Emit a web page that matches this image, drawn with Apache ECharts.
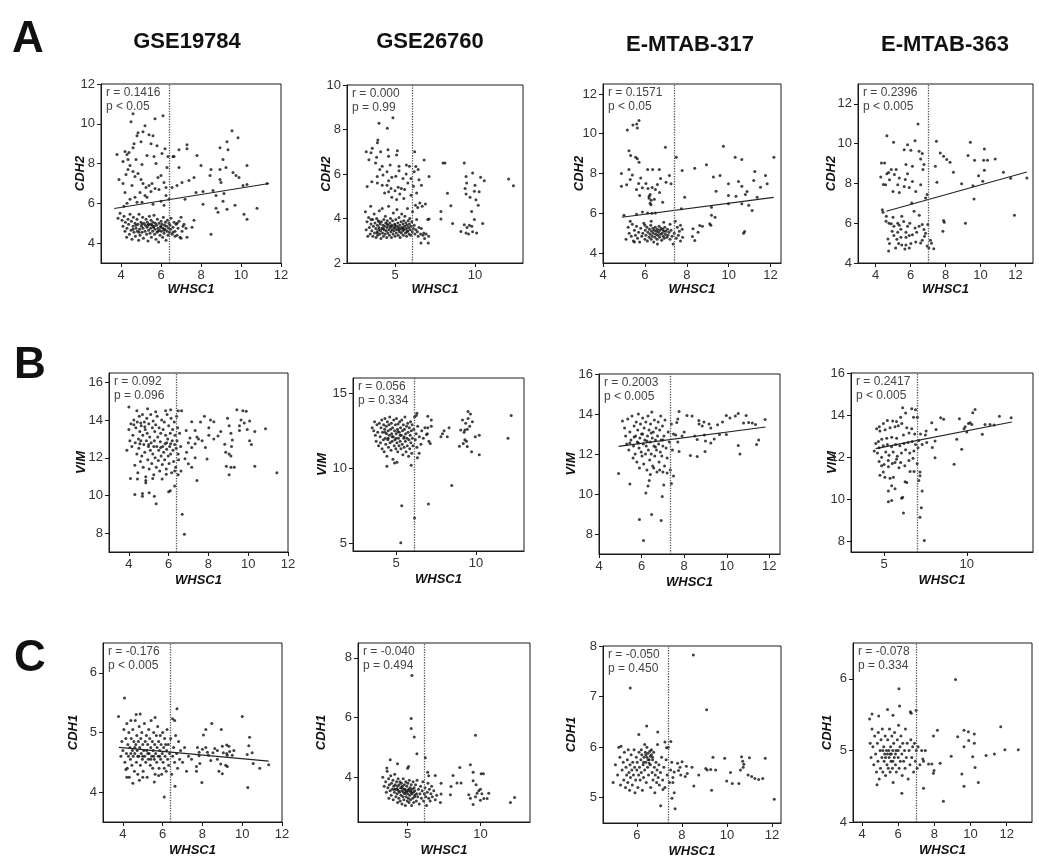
<!DOCTYPE html>
<html>
<head>
<meta charset="utf-8">
<script src="https://cdn.jsdelivr.net/npm/echarts@6.0.0/dist/echarts.min.js"></script>
<style>
html, body { margin: 0; padding: 0; background: #fff; }
#chart { width: 1039px; height: 865px; }
</style>
</head>
<body>
<div id="chart"></div>
<script>
// column headers / row genes
var datasets = ['GSE19784', 'GSE26760', 'E-MTAB-317', 'E-MTAB-363'];
var rowGenes = ['CDH2', 'VIM', 'CDH1'];
var rowLetters = ['A', 'B', 'C'];

// correlation notes, panel order A1..A4, B1..B4, C1..C4
var rText = ['r = 0.1416', 'r = 0.000', 'r = 0.1571', 'r = 0.2396',
  'r = 0.092', 'r = 0.056', 'r = 0.2003', 'r = 0.2417',
  'r = -0.176', 'r = -0.040', 'r = -0.050', 'r = -0.078'];
var pText = ['p < 0.05', 'p = 0.99', 'p < 0.05', 'p < 0.005',
  'p = 0.096', 'p = 0.334', 'p < 0.005', 'p < 0.005',
  'p < 0.005', 'p = 0.494', 'p = 0.450', 'p = 0.334'];

// WHSC1 cut-off (dotted line)
var cutoffs = [6.4, 6.1, 7.4, 7.0, 6.4, 6.15, 7.35, 7.0, 6.4, 6.15, 7.4, 7.0];

var xRanges = [[3, 12], [2, 13], [4, 12.5], [3, 13], [3, 12], [2.3, 13], [4, 12.5], [3, 14], [3, 12], [1.6, 13.4], [4.5, 12.4], [3.5, 13.4]];
var yRanges = [[3, 12], [2, 10], [3.5, 12.5], [4, 13], [7, 16.5], [4.5, 16], [7, 16], [7.5, 16], [3.5, 6.5], [2.5, 8.5], [4.5, 8], [4, 6.5]];
var xTicks = [[4, 6, 8, 10, 12], [5, 10], [4, 6, 8, 10, 12], [4, 6, 8, 10, 12],
  [4, 6, 8, 10, 12], [5, 10], [4, 6, 8, 10, 12], [5, 10],
  [4, 6, 8, 10, 12], [5, 10], [6, 8, 10, 12], [4, 6, 8, 10, 12]];
var yTicks = [[4, 6, 8, 10, 12], [2, 4, 6, 8, 10], [4, 6, 8, 10, 12], [4, 6, 8, 10, 12],
  [8, 10, 12, 14, 16], [5, 10, 15], [8, 10, 12, 14, 16], [8, 10, 12, 14, 16],
  [4, 5, 6], [4, 6, 8], [5, 6, 7, 8], [4, 5, 6]];

// regression lines (end points), null where none is drawn
var fits = [[[3.66, 5.74], [11.4, 7.0]], null, [[4.9, 5.8], [12.15, 6.8]], [[4.62, 6.6], [12.65, 8.58]],
  null, null, [[4.92, 12.38], [11.82, 13.35]], [[4.49, 12.41], [12.72, 13.67]],
  [[3.8, 4.75], [11.33, 4.52]], null, null, null];

// ---- points ----
var a1 = [[4.6,10.5],[4.5,10.1],[5.2,9.9],[5.7,10.25],[6.1,10.4],[4.8,9.4],[4.85,9.55],[5.1,9.6],[5.4,9.45],[5.6,9.4],[5.5,9.0],[5.8,8.9],[4.6,8.8],[5.0,9.1],[4.4,8.55],[4.3,8.45],[3.8,8.45],[4.1,8.1],[4.35,8.2],[4.75,8.2],[5.05,7.95],[5.3,8.4],[5.65,8.35],[6.2,8.75],[6.05,8.5],[6.35,8.35],[6.6,8.35],[3.9,7.2],[4.1,7.0],[4.25,7.45],[4.35,7.7],[4.45,7.9],[4.6,7.6],[4.7,7.35],[4.85,7.5],[5.0,7.2],[5.1,7.0],[5.25,6.8],[5.4,6.9],[5.55,7.0],[5.7,6.75],[5.85,7.3],[6.0,7.4],[6.15,7.05],[6.25,6.8],[5.9,6.7],[5.5,6.6],[5.2,6.4],[4.95,6.55],[4.7,6.3],[4.45,6.2],[4.3,6.0],[4.15,5.85],[4.8,6.05],[5.05,6.05],[5.3,6.3],[5.6,5.95],[6.0,6.1],[6.25,6.4],[6.15,5.9],[4.55,6.9],[4.2,6.55],[5.75,8.0],[6.3,7.8],[6.4,6.2],[4.2,8.6],[4.65,9.0],
  [6.65,8.35],[6.9,8.7],[7.3,8.95],[7.3,8.75],[7.8,8.4],[8.0,7.9],[8.95,8.8],[9.3,9.1],[9.55,9.65],[9.35,8.7],[9.85,9.3],[10.3,7.9],[9.1,8.2],[8.95,7.7],[9.25,7.8],[9.6,7.55],[9.75,7.4],[9.9,7.3],[10.1,6.9],[10.3,6.95],[8.45,7.4],[8.5,7.7],[7.65,7.3],[7.4,7.15],[7.05,7.05],[6.8,6.9],[6.55,6.8],[7.75,6.55],[8.1,6.6],[8.95,7.2],[9.0,7.05],[8.75,6.4],[9.1,6.1],[9.3,5.7],[8.75,5.75],[8.85,5.55],[9.7,5.9],[10.15,5.45],[10.3,5.2],[10.8,5.75],[11.3,7.0],[8.1,5.95],[8.6,6.65],[8.5,4.45],[7.65,5.15],[7.55,4.8],[7.15,4.95],[7.25,4.75],[7.3,4.3],[7.0,4.25],[6.7,4.35],[6.6,4.55],[7.0,5.3],[6.8,5.0],[9.15,6.5],[6.9,7.8],[7.2,6.2],
  [3.85,5.25],[3.95,5.5],[4.05,5.15],[4.1,4.85],[4.15,5.35],[4.2,4.6],[4.22,5.05],[4.28,4.3],[4.3,4.75],[4.35,5.2],[4.38,4.95],[4.42,4.45],[4.45,5.45],[4.5,4.65],[4.52,5.1],[4.55,4.2],[4.6,4.85],[4.62,5.3],[4.65,4.55],[4.7,5.0],[4.72,4.35],[4.75,4.75],[4.8,5.2],[4.82,4.6],[4.85,4.95],[4.88,4.15],[4.9,5.45],[4.93,4.7],[4.95,4.4],[5.0,5.05],[5.02,4.85],[5.05,4.55],[5.08,5.3],[5.1,4.75],[5.12,4.25],[5.15,5.0],[5.2,4.6],[5.22,4.9],[5.25,5.2],[5.28,4.45],[5.3,4.8],[5.32,5.05],[5.35,4.1],[5.38,4.65],[5.4,4.95],[5.42,5.35],[5.45,4.5],[5.48,4.75],[5.5,5.15],[5.52,4.3],[5.55,4.9],[5.58,4.6],[5.6,5.05],[5.62,4.8],[5.65,5.4],[5.68,4.45],[5.7,4.7],[5.72,5.0],[5.75,4.2],[5.78,4.9],[5.8,4.55],[5.82,5.2],[5.85,4.75],[5.88,4.05],[5.9,5.0],[5.92,4.65],[5.95,4.4],[5.98,4.85],[6.0,5.1],[6.02,4.6],[6.05,4.95],[6.08,4.3],[6.1,4.75],[6.12,5.3],[6.15,4.5],[6.18,4.9],[6.2,4.7],[6.22,5.05],[6.25,4.15],[6.28,4.85],[6.3,4.6],[6.32,5.15],[6.35,4.4],[6.38,4.75],[6.4,5.0],[6.42,4.55],[6.45,4.9],[6.48,4.7],[6.5,5.25],[6.55,4.45],[6.6,4.8],[6.65,5.05],[6.7,4.6],[6.75,4.95],[6.8,4.4],[6.85,4.75],[6.9,5.1],[6.95,4.3],[7.05,4.6],[7.1,4.85],[5.35,4.9],[5.05,4.95],[4.75,4.9],[5.65,4.85],[6.0,4.8],[4.6,4.7],[5.5,4.95],[5.85,4.6],[6.15,4.65],[4.9,4.55]];

var a2 = [[3.15,4.3],[3.2,3.5],[3.25,3.85],[3.3,3.2],[3.35,4.05],[3.4,3.6],[3.45,3.3],[3.48,4.55],[3.5,3.75],[3.55,3.45],[3.6,3.95],[3.62,3.2],[3.65,3.65],[3.7,4.2],[3.72,3.35],[3.75,3.8],[3.8,3.55],[3.82,3.15],[3.85,4.0],[3.88,3.4],[3.9,3.7],[3.92,3.25],[3.95,3.9],[3.98,3.5],[4.0,3.6],[4.02,4.35],[4.05,3.3],[4.08,3.75],[4.1,3.45],[4.12,3.1],[4.15,3.85],[4.18,3.55],[4.2,4.45],[4.22,3.35],[4.25,3.7],[4.28,3.2],[4.3,3.95],[4.32,3.5],[4.35,3.65],[4.38,3.3],[4.4,4.1],[4.42,3.8],[4.45,3.45],[4.48,3.15],[4.5,3.6],[4.52,3.9],[4.55,3.35],[4.58,3.7],[4.6,4.55],[4.62,3.5],[4.65,3.25],[4.68,3.8],[4.7,3.6],[4.72,4.0],[4.75,3.4],[4.78,3.15],[4.8,3.7],[4.82,3.5],[4.85,3.9],[4.88,3.3],[4.9,4.25],[4.92,3.6],[4.95,3.45],[4.98,3.75],[5.0,3.2],[5.02,3.55],[5.05,3.95],[5.08,3.35],[5.1,3.65],[5.12,4.4],[5.15,3.5],[5.18,3.8],[5.2,3.25],[5.22,3.6],[5.25,4.05],[5.28,3.4],[5.3,3.7],[5.32,3.15],[5.35,3.55],[5.38,3.85],[5.4,3.35],[5.42,4.2],[5.45,3.6],[5.48,3.45],[5.5,3.75],[5.52,3.25],[5.55,3.9],[5.58,3.5],[5.6,3.65],[5.62,4.1],[5.65,3.35],[5.68,3.8],[5.7,3.55],[5.72,3.2],[5.75,3.7],[5.78,4.45],[5.8,3.45],[5.82,3.9],[5.85,3.6],[5.88,3.3],[5.9,3.75],[5.92,4.0],[5.95,3.5],[5.98,3.25],[6.0,3.65],[6.05,3.85],[6.08,3.4],[6.1,4.3],[6.15,3.55],[6.2,3.7],[6.25,3.3],[6.28,4.6],[6.3,3.5],[6.35,3.95],[6.4,3.4],[6.42,4.5],[6.45,3.2],[6.5,3.6],[6.55,4.7],[6.6,3.3],[6.62,2.9],[6.65,3.55],[6.7,4.55],[6.75,3.25],[6.8,3.35],[6.85,3.1],[6.9,4.65],[6.95,3.3],[7.05,3.95],[7.08,2.9],[7.1,3.2],[3.5,3.95],[4.0,3.85],[4.5,3.75],[5.0,3.7],[5.5,3.55],[4.25,3.55],[4.75,3.65],[5.25,3.5],[5.75,3.4],[3.9,3.35],
  [4.87,8.53],[4.0,8.28],[4.52,8.06],[3.93,7.53],[3.9,7.4],[3.58,7.16],[3.2,7.0],[3.5,6.95],[4.1,7.0],[4.56,7.09],[5.15,7.05],[4.6,6.8],[5.1,6.85],[6.23,7.0],[3.85,6.75],[3.37,6.64],[3.79,6.49],[4.2,6.35],[4.7,6.4],[5.25,6.35],[5.71,6.41],[5.9,6.35],[6.3,6.34],[6.82,6.63],[6.45,6.2],[3.26,5.44],[3.55,5.65],[3.89,5.89],[4.25,5.95],[4.5,6.1],[4.6,5.7],[4.8,5.85],[5.05,5.9],[5.25,6.15],[5.5,5.8],[5.7,6.0],[6.0,5.8],[6.2,6.1],[6.5,5.74],[7.13,5.89],[3.9,5.6],[4.2,5.5],[4.5,5.5],[4.75,5.35],[5.0,5.25],[5.2,5.4],[5.4,5.35],[5.3,5.1],[4.8,4.95],[4.6,5.2],[5.6,5.3],[5.55,4.9],[6.15,5.45],[6.35,5.15],[6.0,5.05],[5.1,4.85],[4.35,5.15],[5.8,5.6],[6.65,5.5],[4.05,6.2],
  [8.0,6.5],[8.12,6.49],[9.33,6.5],[9.44,5.89],[9.48,5.6],[9.85,6.05],[10.0,5.5],[10.35,5.85],[10.58,5.7],[9.96,5.22],[10.26,5.2],[9.38,5.35],[9.44,5.1],[9.69,4.95],[10.06,4.84],[10.2,4.6],[9.79,4.32],[9.96,3.95],[9.33,3.72],[9.5,3.6],[9.65,3.7],[9.8,3.65],[9.44,3.35],[9.6,3.3],[9.85,3.4],[10.1,3.35],[10.48,3.77],[9.12,3.42],[8.28,5.14],[8.49,4.57],[8.6,3.77],[7.87,4.32],[7.87,3.98],[7.13,3.98],[12.1,5.77],[12.4,5.47]];

var a3 = [[5.1,4.7],[5.2,5.3],[5.25,5.0],[5.35,4.85],[5.4,5.45],[5.45,4.6],[5.5,5.15],[5.55,4.9],[5.6,5.35],[5.65,4.75],[5.7,5.05],[5.75,4.55],[5.8,5.25],[5.85,4.85],[5.9,5.0],[5.95,5.5],[6.0,4.7],[6.02,5.15],[6.05,4.9],[6.1,5.3],[6.12,4.6],[6.15,5.05],[6.2,4.8],[6.22,5.2],[6.25,4.95],[6.28,5.4],[6.3,4.7],[6.32,5.1],[6.35,4.85],[6.38,5.25],[6.4,5.0],[6.42,4.55],[6.45,5.15],[6.48,4.8],[6.5,5.3],[6.52,4.95],[6.55,5.1],[6.58,4.7],[6.6,5.2],[6.62,4.9],[6.65,5.05],[6.68,5.35],[6.7,4.8],[6.72,5.15],[6.75,4.95],[6.78,5.25],[6.8,4.65],[6.82,5.0],[6.85,5.2],[6.88,4.85],[6.9,5.1],[6.92,4.75],[6.95,5.3],[6.98,4.95],[7.0,5.1],[7.05,4.8],[7.08,5.2],[7.1,4.9],[7.15,5.05],[7.2,4.7],[7.25,5.15],[7.3,4.85],[7.35,4.45],[7.4,5.0],[7.45,5.6],[7.5,4.75],[7.55,5.3],[7.6,4.9],[7.65,5.1],[7.7,4.6],[7.78,5.2],[7.8,4.8],[6.3,5.6],[6.9,5.55],[5.5,4.55],[6.0,5.4],[6.6,4.45],[7.2,5.45],[5.3,5.6],[7.7,5.4],
  [5.16,10.19],[5.43,10.44],[5.61,10.49],[5.72,10.66],[5.64,10.29],[5.24,9.15],[5.32,8.9],[5.56,8.82],[5.64,8.74],[5.72,8.57],[6.98,9.32],[7.5,8.82],[4.88,8.0],[5.24,8.2],[6.13,8.2],[6.37,8.2],[6.69,8.2],[7.17,7.9],[7.78,8.15],[8.38,8.27],[8.94,8.44],[9.75,9.37],[10.31,8.82],[10.63,8.7],[12.16,8.82],
  [4.88,7.36],[5.13,7.43],[5.3,7.7],[5.4,7.93],[5.8,7.77],[5.7,7.5],[5.88,7.28],[6.05,7.5],[6.15,7.25],[6.35,7.3],[6.6,7.45],[6.75,7.75],[6.5,7.2],[6.25,6.95],[6.2,6.76],[6.3,6.65],[6.45,6.7],[6.7,7.05],[6.85,6.56],[7.01,7.56],[7.25,7.48],[5.6,7.2],[5.75,6.9],[6.2,6.85],[6.25,6.5],[6.29,6.43],[5.88,6.06],[6.13,6.02],[6.33,6.0],[6.5,6.02],[5.0,5.9],[5.6,5.95],
  [9.27,7.82],[9.59,7.9],[9.99,7.48],[10.47,7.6],[10.63,7.36],[10.88,7.1],[11.2,7.65],[11.52,7.31],[11.84,7.48],[11.76,7.9],[11.25,8.1],[9.4,7.11],[9.99,6.9],[10.35,6.85],[10.8,6.95],[11.36,6.81],[10.63,6.48],[10.96,6.4],[11.12,6.14],[9.99,6.48],[9.18,6.3],[9.18,5.9],[9.35,5.8],[9.1,5.47],[9.15,5.4],[10.76,5.09],[10.71,5.0],[7.9,6.81],[7.74,6.23],[8.3,5.22],[8.62,5.38],[8.75,5.35],[8.54,5.05],[8.27,4.83],[8.38,4.63]];

var a4 = [[6.43,10.99],[4.65,10.4],[5.03,10.07],[6.26,10.15],[5.83,9.95],[5.64,9.7],[6.02,9.67],[6.49,9.62],[6.67,9.5],[6.58,9.23],[6.77,8.95],[7.48,10.12],[7.7,9.53],[7.89,9.37],[8.07,9.2],[8.26,9.06],[8.45,8.56],[9.42,10.07],[9.29,9.4],[9.66,9.16],[10.22,9.73],[10.18,9.16],[10.4,9.16],[10.84,9.23],[9.89,8.39],[10.22,8.66],[10.13,8.11],[9.57,7.89],[8.92,7.99],[7.51,8.06],[7.42,8.86],[9.63,7.22],[11.31,8.56],[11.72,8.26],[12.65,8.28],[11.94,6.4],[9.14,6.0],[7.89,6.14],[7.93,6.05],[7.85,5.6],
  [4.34,9.03],[4.52,9.03],[4.65,8.49],[4.8,8.19],[4.3,8.33],[4.58,7.94],[4.9,8.7],[5.08,8.45],[5.18,8.7],[5.36,8.28],[5.27,7.94],[5.0,7.6],[5.36,7.55],[5.64,7.85],[5.7,8.2],[5.83,8.49],[6.11,8.86],[5.74,8.95],[5.93,7.8],[6.11,8.1],[6.3,7.6],[6.07,7.02],[6.58,7.94],[6.71,8.7],[6.86,7.27],[6.95,7.45],[4.45,7.95],[4.75,8.55],
  [4.39,6.68],[4.43,6.55],[4.62,6.35],[4.77,6.0],[4.9,5.97],[5.05,5.85],[5.27,6.0],[5.36,5.9],[5.61,6.09],[5.83,5.85],[5.96,6.0],[5.45,5.7],[5.74,5.55],[5.27,5.55],[5.05,5.38],[5.22,5.2],[5.45,5.3],[5.74,5.3],[5.93,5.38],[6.11,5.42],[6.26,5.76],[6.49,5.85],[6.67,5.93],[6.77,5.68],[6.86,5.5],[6.99,5.93],[7.14,5.15],[6.67,5.15],[6.3,5.05],[6.02,4.98],[5.74,4.9],[5.5,4.9],[5.32,4.98],[4.8,4.98],[4.71,5.21],[4.75,4.6],[5.68,4.7],[5.93,4.75],[7.05,4.75],[7.33,4.72],[7.2,4.99],[6.58,5.0],[6.95,4.85],[4.6,6.1],[5.0,6.3],[5.5,6.35],[6.2,6.6],[6.5,6.4],[4.95,5.6],[6.35,5.55],[5.15,4.75],[6.8,5.35]];

var b1 = [[4.0,14.7],[4.4,14.5],[4.94,14.6],[5.35,14.45],[5.85,14.5],[6.1,14.55],[6.48,14.5],[6.65,14.5],
  [3.9,12.4],[4.0,13.5],[4.05,12.9],[4.1,13.8],[4.15,12.6],[4.2,13.2],[4.25,14.0],[4.3,11.6],[4.32,12.8],[4.35,13.6],[4.4,12.2],[4.42,13.9],[4.45,11.2],[4.48,13.0],[4.5,12.5],[4.52,14.2],[4.55,13.4],[4.58,11.8],[4.6,12.9],[4.62,13.7],[4.65,12.1],[4.68,14.3],[4.7,13.2],[4.72,11.5],[4.75,12.7],[4.78,13.9],[4.8,12.3],[4.82,13.5],[4.85,11.0],[4.88,12.9],[4.9,14.1],[4.92,13.3],[4.95,11.9],[4.98,12.6],[5.0,13.8],[5.02,11.4],[5.05,13.1],[5.08,12.4],[5.1,14.3],[5.12,12.8],[5.15,11.7],[5.18,13.6],[5.2,12.2],[5.22,13.95],[5.25,11.1],[5.28,12.9],[5.3,13.4],[5.32,12.0],[5.35,13.75],[5.38,11.5],[5.4,12.6],[5.42,14.2],[5.45,13.1],[5.48,11.85],[5.5,12.4],[5.52,13.6],[5.55,11.3],[5.58,12.85],[5.6,13.3],[5.62,12.1],[5.65,14.0],[5.68,11.65],[5.7,12.6],[5.72,13.5],[5.75,12.3],[5.78,13.9],[5.8,11.9],[5.82,12.75],[5.85,13.2],[5.88,11.4],[5.9,12.45],[5.92,14.3],[5.95,13.0],[5.98,12.1],[6.0,13.7],[6.02,11.7],[6.05,12.6],[6.08,13.3],[6.1,12.2],[6.12,14.1],[6.15,11.2],[6.18,12.9],[6.2,13.5],[6.22,12.4],[6.25,11.8],[6.28,13.9],[6.3,12.7],[6.32,13.2],[6.35,11.5],[6.38,12.5],[6.4,14.2],[6.42,12.9],[6.45,13.6],[6.48,12.2],[6.5,11.9],[6.55,13.3],[6.6,12.6],[6.62,11.3],[4.25,13.75],[4.6,13.85],[4.8,13.65],[5.0,12.7],[5.25,12.6],[4.55,12.75],[5.6,12.55],[5.9,12.8],[6.1,12.75],
  [6.68,9.0],[6.79,7.94],[5.37,9.56],[5.28,9.96],[4.68,9.96],[4.3,10.05],[4.68,10.1],[5.02,10.15],[6.0,10.2],[6.08,10.25],[6.3,10.5],[4.08,10.9],[4.43,10.87],[4.85,10.8],[4.85,10.67],[5.2,10.9],[5.67,10.87],[5.88,11.13],[6.3,11.3],[6.48,11.1],[7.42,10.8],[7.16,11.5],[6.99,11.68],[6.82,11.95],[7.33,12.0],[7.93,11.93],[7.85,12.54],[7.68,12.9],[8.02,13.2],[8.27,13.0],[8.27,13.91],[8.1,14.0],[7.8,14.2],[7.16,13.91],[7.33,13.45],[7.42,13.1],[8.62,13.4],[8.48,13.15],[8.82,12.72],[8.87,12.3],[9.04,12.2],[9.13,12.1],[9.13,11.5],[8.9,11.55],[9.04,11.1],[9.3,11.5],[8.96,14.1],[9.04,13.7],[9.13,13.3],[9.2,12.95],[9.16,12.6],[9.43,14.55],[9.73,14.5],[9.9,14.47],[9.64,14.0],[9.8,13.85],[10.07,13.95],[9.56,13.7],[9.56,13.45],[9.95,13.5],[10.33,13.4],[10.07,12.9],[10.16,12.7],[10.33,11.55],[10.87,13.54],[11.44,11.2],[6.9,12.3],[7.16,12.55],[7.33,12.75],[7.5,13.0],[7.07,13.05],[6.88,13.45],[6.99,12.8],[7.6,13.9],[8.02,13.6]];

var b2 = [[3.5,12.7],[3.6,12.5],[3.65,13.1],[3.7,12.2],[3.75,11.8],[3.8,12.9],[3.85,12.4],[3.9,11.5],[3.95,13.0],[4.0,12.1],[4.02,11.7],[4.05,12.7],[4.1,13.2],[4.12,11.3],[4.15,12.4],[4.2,11.9],[4.22,12.9],[4.25,11.1],[4.28,12.6],[4.3,13.3],[4.32,12.0],[4.35,11.6],[4.38,12.8],[4.4,12.3],[4.42,10.8],[4.45,13.1],[4.48,11.9],[4.5,12.5],[4.52,11.4],[4.55,12.9],[4.58,12.2],[4.6,13.4],[4.62,11.7],[4.65,12.6],[4.68,11.2],[4.7,13.0],[4.72,12.3],[4.75,11.8],[4.78,12.7],[4.8,10.6],[4.82,12.1],[4.85,13.2],[4.88,11.5],[4.9,12.5],[4.92,11.9],[4.95,12.9],[4.98,11.3],[5.0,12.3],[5.02,13.3],[5.05,11.7],[5.08,12.6],[5.1,11.1],[5.12,12.95],[5.15,12.0],[5.18,11.5],[5.2,12.4],[5.22,13.1],[5.25,11.8],[5.28,12.7],[5.3,11.3],[5.32,12.2],[5.35,13.2],[5.38,11.6],[5.4,12.5],[5.42,10.9],[5.45,12.9],[5.48,12.0],[5.5,11.4],[5.52,12.6],[5.55,13.4],[5.58,11.8],[5.6,12.3],[5.62,11.1],[5.65,12.8],[5.68,12.0],[5.7,11.5],[5.72,13.0],[5.75,12.4],[5.78,10.8],[5.8,11.9],[5.82,12.7],[5.85,11.3],[5.88,12.2],[5.9,13.1],[5.92,11.7],[5.95,12.5],[5.98,11.0],[6.0,12.9],[6.02,12.0],[6.05,11.5],[6.1,12.6],[6.15,13.4],[6.2,11.9],[6.25,12.3],[6.3,11.4],[6.35,12.8],[6.45,12.1],[6.55,11.6],[6.6,12.5],[6.7,12.0],[6.8,12.7],[6.95,12.3],[7.05,11.8],[4.75,12.1],[5.0,12.0],[5.25,12.2],[4.5,12.0],[5.5,12.1],[4.3,12.4],[5.1,12.45],
  [5.29,5.05],[5.35,7.5],[6.15,6.69],[7.02,7.62],[8.48,8.86],[4.42,10.13],[4.9,10.35],[5.05,10.4],[5.94,10.2],[6.33,10.7],[6.44,11.0],[7.8,12.1],[7.9,12.3],[8.0,12.5],[8.31,12.7],[8.2,12.1],[9.15,13.2],[9.35,13.0],[9.5,13.77],[9.65,13.6],[9.5,13.3],[9.77,13.1],[9.6,12.8],[9.45,12.6],[9.3,12.55],[9.04,12.55],[9.25,12.4],[9.3,11.9],[9.4,11.8],[9.2,11.65],[8.96,11.47],[9.45,11.45],[9.72,11.1],[10.2,10.9],[10.2,12.2],[9.95,12.1],[6.98,13.45],[7.2,13.2],[7.2,12.8],[6.98,12.7],[6.9,12.25],[7.13,11.65],[12.0,12.0],[12.2,13.5],[6.3,13.66],[6.26,13.5]];

var b3 = [[5.1,13.65],[5.2,13.3],[5.25,12.9],[5.3,12.5],[5.35,13.75],[5.4,12.2],[5.45,13.1],[5.5,12.7],[5.55,13.9],[5.6,11.8],[5.62,12.4],[5.65,13.4],[5.7,12.0],[5.72,12.9],[5.75,13.6],[5.78,11.6],[5.8,12.6],[5.82,13.2],[5.85,14.0],[5.88,12.3],[5.9,11.3],[5.92,12.8],[5.95,13.5],[5.98,12.1],[6.0,13.0],[6.02,11.9],[6.05,13.8],[6.08,12.5],[6.1,11.5],[6.12,13.3],[6.15,12.7],[6.18,12.0],[6.2,13.6],[6.22,12.4],[6.25,11.2],[6.28,12.9],[6.3,13.9],[6.32,12.2],[6.35,13.2],[6.38,11.7],[6.4,12.6],[6.42,13.5],[6.45,12.0],[6.48,14.1],[6.5,12.8],[6.52,11.4],[6.55,13.1],[6.58,12.4],[6.6,13.7],[6.62,11.9],[6.65,12.7],[6.68,13.3],[6.7,12.2],[6.72,11.1],[6.75,12.9],[6.78,13.6],[6.8,12.5],[6.82,11.6],[6.85,13.2],[6.88,12.1],[6.9,13.9],[6.92,12.7],[6.95,11.9],[6.98,13.4],[7.0,12.4],[7.05,12.9],[7.08,11.4],[7.1,13.7],[7.15,12.3],[7.2,11.8],[7.25,13.1],[7.3,12.6],[7.35,11.2],[7.4,13.5],[7.45,12.2],[7.5,13.0],[5.45,12.55],[5.85,12.55],[6.25,12.65],[6.65,12.35],[7.0,12.7],[6.05,13.0],[6.45,13.05],[5.65,12.85],
  [6.09,7.67],[5.9,8.72],[6.92,8.67],[6.47,8.97],[6.97,9.88],[6.2,10.05],[5.45,10.5],[4.92,11.02],[7.04,10.45],[7.4,10.53],[7.5,10.9],[7.2,11.05],[7.0,11.1],[6.85,11.2],[6.57,11.3],[6.41,10.97],[6.36,10.68],[6.3,10.4],[7.76,14.12],[7.7,13.75],[7.65,13.58],[8.13,13.93],[8.37,13.9],[8.69,13.67],[8.93,13.6],[8.85,13.4],[9.17,13.5],[9.25,13.3],[9.57,13.46],[9.8,13.6],[9.98,13.92],[10.15,13.8],[10.4,13.9],[10.54,14.02],[10.91,13.92],[10.79,13.55],[11.03,13.58],[11.2,13.55],[11.35,13.47],[11.8,13.72],[11.5,12.7],[11.4,12.47],[10.54,12.42],[10.62,12.0],[9.98,12.97],[9.66,12.97],[9.41,12.75],[9.25,12.55],[9.0,12.65],[8.98,12.13],[8.95,12.95],[8.61,12.72],[8.5,12.9],[8.29,11.92],[7.76,12.13],[8.7,13.5],[8.61,11.88],[7.9,12.9],[8.0,13.1],[7.7,12.6],[7.6,12.95]];

var b4 = [[6.12,14.35],[6.67,14.3],[6.9,14.25],[7.01,13.9],[6.78,13.9],[6.3,14.1],[6.0,13.9],[5.75,13.7],[5.52,13.72],[5.2,13.75],[4.96,13.6],[4.71,13.45],[4.55,13.35],[4.75,13.25],[5.06,13.3],[5.36,13.4],[5.66,13.45],[5.86,13.5],[6.07,13.6],[6.37,13.4],[6.67,13.35],[6.51,13.15],[6.17,13.05],[5.76,12.9],[5.46,12.95],[5.16,12.9],[4.86,12.85],[4.66,12.75],[4.5,12.65],[4.7,12.45],[4.95,12.55],[5.2,12.6],[5.45,12.5],[5.7,12.6],[5.95,12.55],[6.2,12.65],[6.45,12.7],[6.7,12.75],[6.9,12.6],[7.1,12.8],[7.2,13.1],[6.85,13.1],[4.4,12.3],[4.6,12.2],[4.85,12.0],[5.1,12.25],[5.3,12.1],[5.55,12.25],[5.8,12.05],[6.05,12.2],[6.3,12.35],[6.55,12.2],[6.8,12.3],[7.05,12.45],[7.3,12.6],[4.7,11.8],[5.0,11.65],[5.25,11.85],[5.5,11.7],[5.75,11.9],[6.0,11.75],[6.25,11.6],[6.5,11.85],[6.75,11.95],[7.0,11.7],[4.95,11.3],[4.85,11.6],[5.26,11.55],[5.66,11.75],[5.9,11.5],[6.57,11.32],[6.81,11.32],[7.17,11.12],[7.17,11.3],[4.75,11.15],[5.05,11.05],[5.36,11.0],[5.56,11.05],[6.27,10.83],[6.37,10.8],[5.46,10.65],[5.66,10.5],[5.26,10.4],[5.26,9.89],[5.46,9.95],[6.06,10.05],[6.12,10.1],[6.17,9.35],[7.17,9.15],[7.43,8.05],[7.1,10.9],[7.3,10.4],[7.25,9.6],
  [7.54,13.24],[7.88,13.64],[8.14,13.32],[8.42,13.87],[8.6,13.8],[8.08,12.77],[7.92,12.46],[8.08,11.98],[7.58,12.7],[7.5,13.05],[9.23,11.67],[9.55,13.83],[9.39,12.85],[9.69,12.38],[9.83,13.35],[9.9,13.45],[10.0,13.2],[10.2,13.64],[10.36,14.11],[10.5,14.27],[10.1,13.6],[10.3,13.55],[10.94,13.09],[11.1,13.56],[11.4,13.56],[11.65,13.53],[11.97,13.95],[12.68,13.87]];

var c1 = [[3.9,4.6],[3.95,4.85],[4.0,4.7],[4.05,5.05],[4.1,4.5],[4.15,4.9],[4.18,4.65],[4.2,5.15],[4.22,4.4],[4.25,4.8],[4.28,4.6],[4.3,5.0],[4.32,4.25],[4.35,4.75],[4.38,4.55],[4.4,5.2],[4.42,4.9],[4.45,4.45],[4.48,4.7],[4.5,5.05],[4.52,4.6],[4.55,4.85],[4.58,4.35],[4.6,4.65],[4.62,5.2],[4.65,4.8],[4.68,4.5],[4.7,4.95],[4.72,4.7],[4.75,4.3],[4.78,4.85],[4.8,4.6],[4.82,5.1],[4.85,4.75],[4.88,4.45],[4.9,4.9],[4.92,4.65],[4.95,5.0],[4.98,4.55],[5.0,4.8],[5.02,4.35],[5.05,4.7],[5.08,5.15],[5.1,4.6],[5.12,4.85],[5.15,4.5],[5.18,4.95],[5.2,4.7],[5.22,4.25],[5.25,4.8],[5.28,4.55],[5.3,5.05],[5.32,4.65],[5.35,4.9],[5.38,4.45],[5.4,4.75],[5.42,5.2],[5.45,4.6],[5.48,4.85],[5.5,4.4],[5.52,4.7],[5.55,5.0],[5.58,4.55],[5.6,4.8],[5.62,4.3],[5.65,4.65],[5.68,4.95],[5.7,4.5],[5.72,4.75],[5.75,5.1],[5.78,4.6],[5.8,4.85],[5.82,4.4],[5.85,4.7],[5.88,4.95],[5.9,4.55],[5.92,4.8],[5.95,4.3],[5.98,4.65],[6.0,5.0],[6.02,4.5],[6.05,4.75],[6.08,4.4],[6.1,4.9],[6.12,4.6],[6.15,4.8],[6.18,4.35],[6.2,4.7],[6.22,5.05],[6.25,4.55],[6.28,4.8],[6.3,4.45],[6.35,4.65],[6.4,4.9],[6.45,4.3],[6.5,4.6],[6.55,4.75],[6.6,4.5],[6.65,4.95],[6.7,4.65],[6.75,4.4],[6.8,4.85],[6.85,4.55],[6.9,4.7],[7.0,4.5],[4.4,4.65],[4.75,4.6],[5.25,4.65],[5.55,4.6],[5.85,4.6],[4.6,4.75],[5.0,4.6],[5.4,4.55],
  [4.08,5.58],[3.78,5.27],[4.67,5.3],[4.87,5.31],[5.62,5.25],[6.72,5.4],[6.5,5.23],[6.6,5.2],[6.08,3.92],[6.62,4.1],[4.83,4.2],[4.5,4.15],[5.58,4.17],[5.8,4.28],[5.0,4.25],[4.2,4.25],[4.15,4.38],[7.75,4.75],[7.83,4.67],[8.0,4.72],[8.17,4.75],[8.25,4.67],[7.83,4.61],[7.87,4.48],[7.7,4.35],[7.7,4.43],[7.97,4.16],[8.05,4.96],[8.17,5.05],[8.47,5.15],[8.42,4.53],[8.75,4.55],[8.92,4.47],[8.83,4.35],[9.0,4.31],[8.62,4.73],[8.95,5.05],[9.0,4.77],[9.22,4.79],[9.05,4.66],[9.22,4.65],[9.33,4.77],[9.37,4.68],[9.5,4.62],[10.0,5.27],[9.58,4.7],[10.33,4.78],[10.37,4.92],[10.25,4.63],[10.5,4.66],[9.25,4.62],[10.28,4.08],[10.55,4.48],[10.88,4.4],[11.33,4.46],[8.75,4.7],[8.53,4.66],[8.3,4.62],[9.25,4.43],[9.17,4.45],[7.3,4.6],[7.1,4.75],[7.45,4.55],[7.2,4.35]];

var c2 = [[3.3,4.0],[3.4,3.7],[3.5,3.85],[3.55,3.5],[3.6,4.2],[3.65,3.65],[3.7,3.95],[3.72,3.3],[3.75,3.75],[3.8,3.55],[3.85,4.05],[3.88,3.4],[3.9,3.8],[3.95,3.6],[4.0,3.9],[4.02,3.25],[4.05,3.7],[4.1,3.5],[4.12,4.1],[4.15,3.75],[4.2,3.35],[4.22,3.6],[4.25,3.85],[4.28,3.45],[4.3,3.7],[4.32,3.15],[4.35,3.95],[4.38,3.55],[4.4,3.3],[4.42,3.75],[4.45,3.5],[4.48,3.85],[4.5,3.2],[4.52,3.65],[4.55,3.4],[4.58,3.8],[4.6,3.55],[4.62,3.1],[4.65,3.7],[4.68,3.35],[4.7,3.95],[4.72,3.5],[4.75,3.25],[4.78,3.75],[4.8,3.45],[4.82,3.6],[4.85,3.05],[4.88,3.85],[4.9,3.35],[4.92,3.55],[4.95,3.7],[4.98,3.2],[5.0,3.45],[5.02,3.8],[5.05,3.3],[5.08,3.6],[5.1,3.15],[5.12,3.9],[5.15,3.4],[5.18,3.65],[5.2,3.25],[5.22,3.5],[5.25,3.75],[5.28,3.05],[5.3,3.45],[5.32,3.6],[5.35,3.3],[5.38,3.85],[5.4,3.5],[5.42,3.15],[5.45,3.65],[5.48,3.35],[5.5,3.55],[5.55,3.75],[5.6,3.2],[5.62,3.45],[5.65,3.9],[5.7,3.35],[5.75,3.6],[5.8,3.1],[5.85,3.45],[5.9,3.7],[5.95,3.3],[6.0,3.55],[6.05,3.85],[6.1,3.2],[6.15,3.45],[6.2,3.65],[6.25,3.35],[6.3,3.05],[6.35,3.5],[6.4,3.8],[6.45,3.3],[6.5,3.6],[6.55,3.2],[6.6,3.45],[6.65,3.7],[6.7,3.35],[6.8,3.55],[6.9,3.25],[7.0,3.4],[4.3,3.6],[4.6,3.65],[4.9,3.5],[5.2,3.55],[5.5,3.4],[4.1,3.6],[4.75,3.6],[5.05,3.55],
  [5.3,7.41],[5.25,5.97],[5.25,5.63],[5.46,5.35],[5.64,4.79],[6.22,4.65],[6.38,4.17],[3.81,4.59],[4.31,4.45],[5.07,4.36],[5.0,4.3],[3.58,4.31],[6.45,4.05],[6.9,4.06],[7.3,3.8],[7.3,3.44],[7.25,3.15],[8.12,4.06],[7.98,3.69],[7.94,3.41],[8.58,4.33],[8.39,3.81],[8.67,3.81],[9.31,4.42],[9.5,4.17],[9.5,3.88],[9.7,3.75],[9.66,5.41],[10.05,4.12],[10.2,4.12],[9.2,3.41],[9.31,3.3],[9.5,3.09],[9.66,3.35],[9.77,3.46],[9.88,3.55],[10.0,3.6],[10.1,3.45],[10.23,3.29],[10.46,3.29],[10.57,3.46],[10.0,3.23],[12.06,3.15],[12.34,3.32]];

var c3 = [[4.95,5.3],[5.05,5.65],[5.15,5.45],[5.2,6.0],[5.25,5.8],[5.28,5.25],[5.3,6.02],[5.35,5.55],[5.4,5.7],[5.42,5.35],[5.45,5.9],[5.5,5.2],[5.52,5.6],[5.55,5.45],[5.58,5.75],[5.6,5.3],[5.62,5.95],[5.65,5.5],[5.68,5.15],[5.7,5.65],[5.72,5.4],[5.75,5.85],[5.78,5.55],[5.8,5.25],[5.82,5.7],[5.85,5.45],[5.88,5.95],[5.9,5.6],[5.92,5.1],[5.95,5.35],[5.98,5.8],[6.0,5.55],[6.02,5.7],[6.05,5.2],[6.08,5.45],[6.1,5.9],[6.12,5.6],[6.15,5.35],[6.18,5.75],[6.2,5.5],[6.22,5.85],[6.25,5.15],[6.28,5.65],[6.3,5.4],[6.32,5.8],[6.35,5.55],[6.38,5.9],[6.4,5.7],[6.42,5.3],[6.45,5.8],[6.48,5.6],[6.5,5.88],[6.52,5.45],[6.55,5.75],[6.58,5.92],[6.6,5.65],[6.62,5.2],[6.65,5.85],[6.68,5.5],[6.7,5.75],[6.72,5.35],[6.75,5.9],[6.78,5.6],[6.8,5.1],[6.82,5.45],[6.85,5.7],[6.88,5.3],[6.9,5.55],[6.92,6.05],[6.95,5.4],[6.98,5.65],[7.0,5.25],[7.05,5.5],[7.1,5.8],[7.15,5.35],[7.2,5.6],[7.25,5.2],[7.3,5.75],[7.35,5.45],[7.4,6.0],[7.45,5.3],[7.5,5.55],[7.55,5.7],[7.6,5.4],[6.5,5.75],[6.6,5.82],[6.7,5.8],[6.4,5.85],[6.55,5.68],[6.65,5.95],[6.3,5.7],[6.2,5.95],[6.45,6.0],[6.35,6.05],
  [8.51,7.82],[9.1,6.74],[5.71,7.17],[6.44,6.42],[6.09,6.25],[6.93,6.3],[7.51,6.11],[7.25,6.1],[7.32,5.99],[7.66,5.51],[7.85,5.54],[7.92,5.6],[7.81,5.68],[8.01,5.71],[8.2,5.62],[8.24,5.48],[8.15,5.42],[8.53,5.23],[7.95,5.45],[7.66,5.1],[7.56,4.99],[7.7,4.78],[7.06,4.84],[7.16,5.16],[7.6,5.3],[9.06,5.58],[9.12,5.55],[9.28,5.56],[9.38,5.8],[9.5,5.55],[9.32,5.15],[9.9,5.78],[9.99,5.33],[10.16,5.5],[10.24,5.28],[10.53,5.28],[10.6,5.55],[10.65,5.81],[10.7,5.72],[10.75,5.66],[10.72,5.6],[11.0,5.79],[10.94,5.45],[11.1,5.42],[11.24,5.38],[11.41,5.36],[11.59,5.38],[11.7,5.78],[12.1,4.97],[8.75,5.45],[8.45,5.6]];

var c4 = [[4.45,5.1],[4.5,4.9],[4.55,5.3],[4.6,5.05],[4.65,4.8],[4.7,5.2],[4.75,4.95],[4.8,4.7],[4.85,5.1],[4.88,4.85],[4.9,5.25],[4.95,4.6],[5.0,5.0],[5.02,4.75],[5.05,5.15],[5.1,4.9],[5.12,5.3],[5.15,4.7],[5.2,5.05],[5.22,4.85],[5.25,4.95],[5.28,5.2],[5.3,4.65],[5.35,5.0],[5.38,4.8],[5.4,4.95],[5.42,5.15],[5.45,4.75],[5.48,5.0],[5.5,4.9],[5.52,5.3],[5.55,4.7],[5.58,5.05],[5.6,4.85],[5.62,4.95],[5.65,5.2],[5.68,4.75],[5.7,5.0],[5.72,4.55],[5.75,5.1],[5.78,4.9],[5.8,5.25],[5.85,4.8],[5.88,5.0],[5.9,4.7],[5.95,5.15],[6.0,4.9],[6.02,5.35],[6.05,4.75],[6.1,5.05],[6.12,4.85],[6.15,5.2],[6.2,4.95],[6.22,4.65],[6.25,5.1],[6.3,4.85],[6.35,5.0],[6.38,4.75],[6.4,5.3],[6.45,4.9],[6.5,5.1],[6.55,4.6],[6.6,5.0],[6.65,4.8],[6.7,5.15],[6.75,4.9],[6.8,5.05],[6.85,4.7],[6.9,5.1],[6.95,4.85],[7.0,5.0],[7.05,4.75],[7.1,5.05],[7.2,4.8],[7.3,5.0],[7.4,4.85],[5.3,4.9],[5.55,4.95],[5.85,4.95],[5.15,5.0],[5.7,4.85],[6.0,5.0],
  [6.04,5.86],[6.08,5.62],[5.41,5.57],[4.42,5.44],[4.55,5.51],[4.92,5.48],[5.71,5.49],[6.67,5.54],[6.72,5.52],[6.99,5.56],[4.83,4.52],[6.2,4.4],[7.4,4.47],[8.5,4.29],[9.17,5.99],[8.17,5.28],[7.95,5.2],[8.32,4.82],[7.95,4.68],[7.98,4.72],[7.86,4.81],[7.68,4.81],[7.5,5.0],[7.36,4.88],[8.93,4.92],[9.29,5.19],[9.64,5.28],[9.88,5.26],[10.21,5.23],[9.9,5.14],[9.64,5.05],[9.52,4.67],[9.64,4.5],[10.21,5.1],[10.12,4.91],[10.25,4.76],[10.43,4.55],[10.86,4.93],[11.32,4.95],[11.67,5.33],[11.9,5.01],[12.64,5.01]];

var points = [a1, a2, a3, a4, b1, b2, b3, b4, c1, c2, c3, c4];

// ---- layout (pixels): left, top, width, height, y-name gap ----
var boxes = [
  [101, 84, 180, 179, 14], [347, 85, 176, 178, 14], [603, 84, 178, 179, 17], [858, 84, 175, 179, 20],
  [109, 373, 179, 179, 21], [353, 378, 171, 173, 24], [599, 374, 181, 180, 21], [851, 373, 182, 179, 12],
  [103, 643, 179, 179, 23], [358, 643, 172, 179, 30], [603, 646, 178, 177, 25], [853, 643, 179, 179, 19]
];
var xNameGaps = [17, 22, 22];
var titlePos = [[187, 42], [430, 42], [690, 45], [945, 45]];
var letterPos = [[28, 40], [30, 366], [30, 659]];

var FONT = "'Liberation Sans', Arial, sans-serif";
var INK = '#1a1a1a';

var grids = [], xAxes = [], yAxes = [], series = [], graphics = [];

points.forEach(function (pts, i) {
  var b = boxes[i];
  var row = Math.floor(i / 4);
  grids.push({
    left: b[0], top: b[1], width: b[2], height: b[3],
    show: true, borderColor: INK, borderWidth: 1, backgroundColor: 'rgba(0,0,0,0)'
  });
  xAxes.push({
    gridIndex: i, type: 'value', min: xRanges[i][0], max: xRanges[i][1],
    name: 'WHSC1', nameLocation: 'middle', nameGap: xNameGaps[row],
    nameTextStyle: { fontStyle: 'italic', fontWeight: 'bold', fontSize: 13, color: '#111', fontFamily: FONT },
    axisLine: { show: true, onZero: false, lineStyle: { color: INK, width: 1 } },
    axisTick: { show: true, length: 4, customValues: xTicks[i], lineStyle: { color: INK } },
    axisLabel: { customValues: xTicks[i], fontSize: 13, color: '#333', margin: 6, fontFamily: FONT },
    splitLine: { show: false }
  });
  yAxes.push({
    gridIndex: i, type: 'value', min: yRanges[i][0], max: yRanges[i][1],
    name: rowGenes[row], nameLocation: 'middle', nameGap: b[4], nameMoveOverlap: false,
    nameTextStyle: { fontStyle: 'italic', fontWeight: 'bold', fontSize: 13, color: '#111', fontFamily: FONT },
    axisLine: { show: true, onZero: false, lineStyle: { color: INK, width: 1 } },
    axisTick: { show: true, length: 4, customValues: yTicks[i], lineStyle: { color: INK } },
    axisLabel: { customValues: yTicks[i], fontSize: 13, color: '#333', margin: 6, fontFamily: FONT },
    splitLine: { show: false }
  });
  series.push({
    type: 'scatter', xAxisIndex: i, yAxisIndex: i, data: pts,
    symbolSize: 3, itemStyle: { color: '#111' }, silent: true,
    markLine: {
      silent: true, symbol: ['none', 'none'], label: { show: false },
      lineStyle: { type: 'dotted', color: '#555', width: 1.3 },
      data: [{ xAxis: cutoffs[i] }]
    }
  });
  if (fits[i]) {
    series.push({
      type: 'line', xAxisIndex: i, yAxisIndex: i, data: fits[i],
      symbol: 'none', silent: true, lineStyle: { color: '#222', width: 1.1 }
    });
  }
  graphics.push({
    type: 'text', left: b[0] + 5, top: b[1] + 2,
    style: { text: rText[i] + '\n' + pText[i], fill: '#444', font: '12px ' + FONT, lineHeight: 14 }
  });
});

datasets.forEach(function (d, j) {
  graphics.push({
    type: 'text', x: titlePos[j][0], y: titlePos[j][1],
    style: { text: d, fill: '#111', font: 'bold 22px ' + FONT, textAlign: 'center', textVerticalAlign: 'middle', align: 'center', verticalAlign: 'middle' }
  });
});
rowLetters.forEach(function (l, j) {
  graphics.push({
    type: 'text', x: letterPos[j][0], y: letterPos[j][1],
    style: { text: l, fill: '#111', font: 'bold 44px ' + FONT, textAlign: 'center', textVerticalAlign: 'middle', align: 'center', verticalAlign: 'middle' }
  });
});

var chart = echarts.init(document.getElementById('chart'));
chart.setOption({
  animation: false,
  backgroundColor: '#fff',
  grid: grids,
  xAxis: xAxes,
  yAxis: yAxes,
  series: series,
  graphic: graphics
});
</script>
</body>
</html>
